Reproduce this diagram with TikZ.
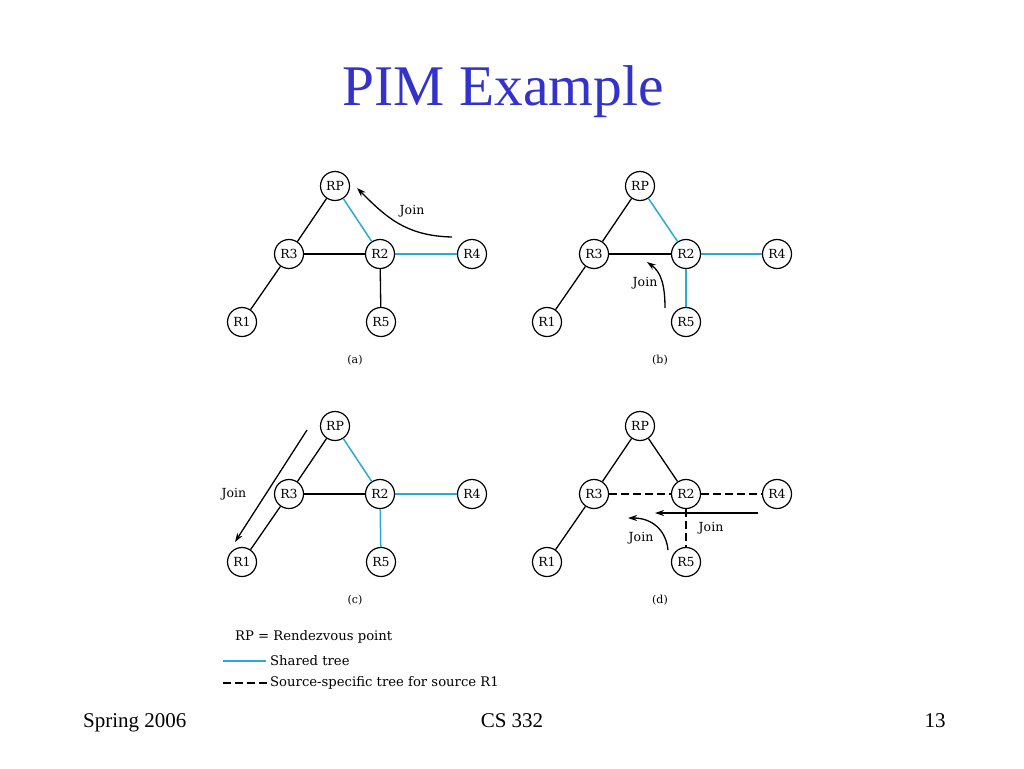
\documentclass[tikz,border=0pt]{standalone}
\usepackage{fontspec}
\setmainfont{Liberation Serif}
\newfontfamily\dfont{DejaVu Serif}
\usetikzlibrary{arrows.meta}
\definecolor{titleblue}{RGB}{51,51,204}
\definecolor{treeblue}{RGB}{40,170,210}
\tikzset{
  router/.style={circle,draw,line width=1.2pt,minimum size=29pt,inner sep=0pt,font=\dfont\fontsize{12.5}{12.5}\selectfont},
  plain/.style={line width=1.3pt},
  shared/.style={line width=1.5pt,draw=treeblue},
  srcspec/.style={line width=1.4pt,dash pattern=on 8pt off 4pt},
  joinarrow/.style={line width=1.3pt,-{Stealth[length=9pt,width=6pt]}},
  lbl/.style={font=\dfont\fontsize{12.5}{12.5}\selectfont,inner sep=0pt},
  captionlbl/.style={font=\dfont\fontsize{11}{11}\selectfont,inner sep=0pt},
  legendtext/.style={font=\dfont\fontsize{13.2}{13.2}\selectfont,inner sep=0pt,anchor=west},
  footer/.style={font=\fontsize{21}{21}\selectfont,inner sep=0pt}
}
\begin{document}
\begin{tikzpicture}[x=1pt,y=-1pt]
\useasboundingbox (0,0) rectangle (1024,768);
\fill[white] (0,0) rectangle (1024,768);

% title
\node[font=\fontsize{57.5}{57.5}\selectfont,text=titleblue,anchor=base,inner sep=0pt] (title) at (503,105) {PIM Example};

% ---------- panel (a)
\node[router] (aRP) at (335,186) {RP};
\node[router] (aR3) at (289,254) {R3};
\node[router] (aR2) at (380,254) {R2};
\node[router] (aR4) at (472,254) {R4};
\node[router] (aR1) at (242,322) {R1};
\node[router] (aR5) at (381,322) {R5};
\draw[plain] (aRP) -- (aR3);
\draw[plain] (aR3) -- (aR2);
\draw[plain] (aR3) -- (aR1);
\draw[plain] (aR2) -- (aR5);
\draw[shared] (aRP) -- (aR2);
\draw[shared] (aR2) -- (aR4);
\coordinate (aJs) at (452,237);
\coordinate (aJe) at (357,188);
\draw[joinarrow] (aJs) .. controls (405,236) and (385,216) .. (aJe);
\node[lbl] (aJ) at (412,211) {Join};
\node[captionlbl] (acap) at (355,360) {(a)};

% ---------- panel (b)
\node[router] (bRP) at (640,186) {RP};
\node[router] (bR3) at (594,254) {R3};
\node[router] (bR2) at (686,254) {R2};
\node[router] (bR4) at (777,254) {R4};
\node[router] (bR1) at (547,322) {R1};
\node[router] (bR5) at (686,322) {R5};
\draw[plain] (bRP) -- (bR3);
\draw[plain] (bR3) -- (bR2);
\draw[plain] (bR3) -- (bR1);
\draw[shared] (bRP) -- (bR2);
\draw[shared] (bR2) -- (bR4);
\draw[shared] (bR2) -- (bR5);
\coordinate (bJs) at (665,308);
\coordinate (bJe) at (647,262);
\draw[joinarrow] (bJs) .. controls (665,285) and (661,272) .. (bJe);
\node[lbl] (bJ) at (645,283) {Join};
\node[captionlbl] (bcap) at (660,360) {(b)};

% ---------- panel (c)
\node[router] (cRP) at (335,426) {RP};
\node[router] (cR3) at (289,494) {R3};
\node[router] (cR2) at (380,494) {R2};
\node[router] (cR4) at (472,494) {R4};
\node[router] (cR1) at (242,562) {R1};
\node[router] (cR5) at (381,562) {R5};
\draw[plain] (cRP) -- (cR3);
\draw[plain] (cR3) -- (cR2);
\draw[plain] (cR3) -- (cR1);
\draw[shared] (cRP) -- (cR2);
\draw[shared] (cR2) -- (cR4);
\draw[shared] (cR2) -- (cR5);
\coordinate (cJs) at (307,430);
\coordinate (cJe) at (235,542);
\draw[joinarrow] (cJs) -- (cJe);
\node[lbl] (cJ) at (234,494) {Join};
\node[captionlbl] (ccap) at (355,600) {(c)};

% ---------- panel (d)
\node[router] (dRP) at (640,426) {RP};
\node[router] (dR3) at (594,494) {R3};
\node[router] (dR2) at (686,494) {R2};
\node[router] (dR4) at (777,494) {R4};
\node[router] (dR1) at (547,562) {R1};
\node[router] (dR5) at (686,562) {R5};
\draw[plain] (dRP) -- (dR3);
\draw[plain] (dRP) -- (dR2);
\draw[plain] (dR3) -- (dR1);
\draw[srcspec] (dR3) -- (dR2);
\draw[srcspec] (dR2) -- (dR4);
\draw[srcspec] (dR2) -- (dR5);
\coordinate (dJs) at (758,513);
\coordinate (dJe) at (655,513);
\draw[joinarrow] (dJs) -- (dJe);
\node[lbl] (dJ) at (711,528) {Join};
\coordinate (dKs) at (668,550);
\coordinate (dKe) at (628,518);
\draw[joinarrow] (dKs) .. controls (666,530) and (652,518) .. (dKe);
\node[lbl] (dK) at (641,538) {Join};
\node[captionlbl] (dcap) at (660,600) {(d)};

% ---------- legend
\node[legendtext] (lg1) at (235,637) {RP = Rendezvous point};
\coordinate (lb1) at (223,661);
\coordinate (lb2) at (266,661);
\draw[shared] (lb1) -- (lb2);
\node[legendtext] (lg2) at (270,661) {Shared tree};
\coordinate (ld1) at (223,683);
\coordinate (ld2) at (267,683);
\draw[srcspec] (ld1) -- (ld2);
\node[legendtext] (lg3) at (270,683) {Source-specific tree for source R1};

% ---------- footer
\node[footer,anchor=base west] (f1) at (83,727) {Spring 2006};
\node[footer,anchor=base] (f2) at (512,727) {CS 332};
\node[footer,anchor=base] (f3) at (935,727) {13};
\end{tikzpicture}
\end{document}
